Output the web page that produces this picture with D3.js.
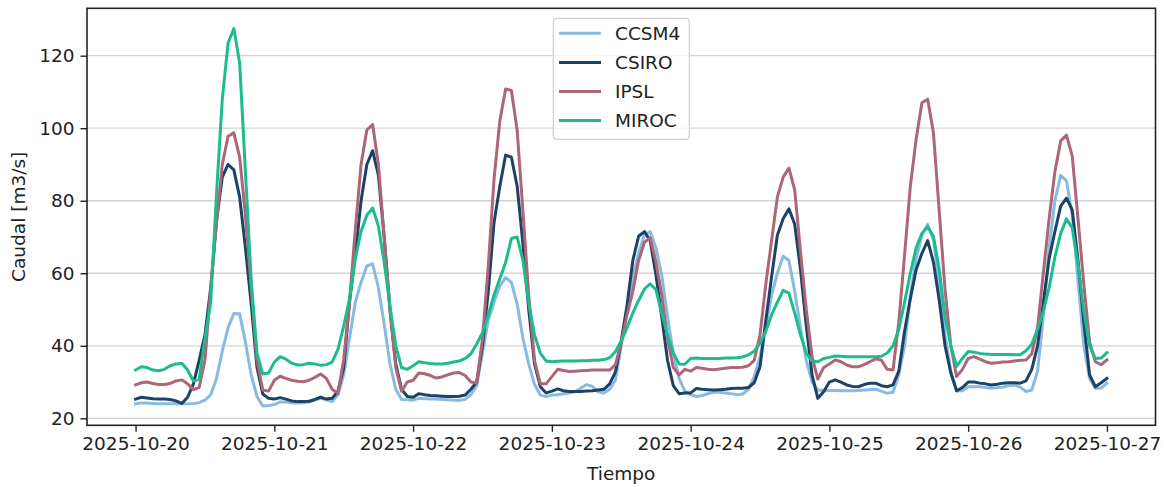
<!DOCTYPE html>
<html>
<head>
<meta charset="utf-8">
<script src="https://cdn.jsdelivr.net/npm/d3@7"></script>
<style>
  body { margin: 0; background: #fff; }
  svg text { font-family: "DejaVu Sans", sans-serif; fill: #222; }
</style>
</head>
<body>
<svg id="chart" width="1164" height="487"></svg>
<script>
// hourly series, 2025-10-20 00:00 .. 2025-10-27 00:00
var startTime = new Date(2025, 9, 20, 0, 0);

var ccsm4 = [
  24.0,24.2,24.2,24.1,24.0,24.0,24.0,24.0,24.0,24.0,24.1,24.3,25.0,26.5,31.0,38.5,45.0,48.9,48.8,41.0,32.0,26.0,23.4,23.5,
  23.8,24.5,24.5,24.3,24.2,24.3,24.5,25.0,25.6,25.1,24.6,26.5,32.0,42.0,52.0,57.5,62.0,62.6,56.0,46.0,35.0,28.0,25.2,25.1,
  25.0,25.5,25.4,25.3,25.3,25.2,25.1,25.0,25.0,25.2,26.5,29.0,38.0,47.0,52.0,56.5,58.8,57.5,51.5,42.0,35.0,29.3,26.4,26.0,
  26.4,26.5,26.8,27.0,27.3,28.3,29.3,28.8,27.3,27.0,28.0,30.5,40.0,50.0,59.0,65.5,70.5,71.5,67.0,59.5,48.0,38.0,31.0,27.5,
  26.5,26.0,26.3,26.8,27.2,27.2,27.0,26.8,26.5,26.7,28.0,31.5,37.0,45.0,54.0,60.0,64.7,63.5,55.0,45.0,36.0,30.0,27.8,27.7,
  27.7,27.7,27.6,27.6,27.6,27.7,27.8,27.9,28.0,27.5,26.9,27.2,32.0,40.0,54.0,64.0,70.5,73.5,69.2,57.0,43.0,33.0,27.5,27.6,
  28.7,28.7,28.7,28.5,28.3,28.4,28.6,29.0,29.2,28.6,27.4,27.8,33.0,48.0,67.0,80.0,87.0,85.5,76.0,58.0,40.0,31.0,28.3,28.3,29.7
];
var csiro = [
  25.3,25.8,25.6,25.4,25.3,25.3,25.2,24.8,24.1,25.8,29.5,36.0,43.0,56.0,74.5,86.5,90.0,88.5,81.0,67.0,51.5,34.0,26.7,25.5,
  25.3,25.7,25.3,24.8,24.6,24.6,24.7,25.2,25.8,25.3,25.5,27.5,34.0,52.0,65.0,80.0,90.0,93.8,87.0,70.0,50.0,35.0,28.0,26.0,
  25.8,26.8,26.5,26.3,26.2,26.1,26.0,26.0,26.1,26.4,28.0,30.0,40.0,55.0,74.0,84.0,92.6,92.0,84.0,68.0,50.0,35.0,28.7,27.0,
  27.5,28.1,27.6,27.4,27.4,27.4,27.5,27.6,27.8,28.0,29.5,32.8,41.3,51.2,63.5,70.2,71.5,69.0,59.5,48.0,36.0,29.0,26.8,27.0,
  27.0,28.2,28.0,27.9,27.8,27.9,28.0,28.2,28.3,28.3,28.5,29.8,34.2,47.0,59.0,70.5,75.0,77.8,73.5,61.0,45.5,32.0,25.5,27.3,
  30.0,30.6,30.0,29.2,28.8,28.7,29.3,29.7,29.7,29.0,28.7,29.2,33.0,44.0,53.0,61.0,65.5,69.0,63.0,52.5,40.0,32.5,27.6,28.5,
  30.0,30.0,29.7,29.5,29.2,29.4,29.7,29.8,29.8,29.7,30.3,33.5,40.0,52.0,64.0,71.5,78.5,80.7,77.5,63.5,46.5,32.0,28.7,29.8,31.0
];
var ipsl = [
  29.2,29.8,30.0,29.6,29.3,29.3,29.6,30.3,30.6,29.5,27.9,28.5,36.0,56.0,74.0,90.0,97.8,98.7,92.0,76.0,56.0,36.0,27.8,27.5,
  30.5,31.6,31.0,30.5,30.2,30.1,30.5,31.3,32.2,31.0,28.0,26.8,36.3,52.0,72.0,90.0,99.5,101.0,90.0,70.0,50.0,34.0,27.5,30.0,
  30.5,32.5,32.3,31.8,31.1,31.4,32.0,32.5,32.6,31.8,30.0,29.7,42.0,62.0,86.0,102.0,110.8,110.4,99.4,77.0,54.0,36.0,29.5,29.5,
  31.5,33.5,33.2,32.9,33.0,33.1,33.2,33.3,33.3,33.3,33.3,34.8,41.0,48.5,55.0,63.5,68.5,69.8,63.0,54.0,42.0,34.0,32.0,33.5,
  33.0,34.0,33.8,33.5,33.4,33.6,33.8,34.0,34.0,34.1,34.5,36.0,43.0,57.0,69.0,81.0,86.5,89.0,83.0,66.0,50.0,37.0,30.8,34.0,
  35.0,36.1,35.6,34.7,34.2,34.2,34.8,35.6,36.4,36.0,33.5,33.3,46.5,65.0,84.0,97.0,107.0,108.0,98.6,77.0,55.5,40.0,31.5,33.5,
  36.5,37.0,36.3,35.6,35.2,35.3,35.5,35.6,35.8,36.0,36.1,37.8,45.0,60.0,75.0,88.0,96.5,98.1,92.3,75.0,57.0,41.0,35.6,34.8,36.1
];
var miroc = [
  33.3,34.2,34.0,33.3,33.1,33.5,34.5,35.0,35.2,33.3,30.3,30.8,42.0,52.0,82.0,108.0,123.5,127.5,118.0,88.0,58.0,38.0,32.2,32.5,
  35.5,37.0,36.3,35.2,34.7,34.8,35.2,35.0,34.6,34.8,35.5,39.0,45.4,53.0,64.0,71.5,76.0,78.0,73.0,63.0,51.0,40.0,34.0,33.5,
  34.5,35.6,35.3,35.1,35.0,35.0,35.2,35.5,35.8,36.5,37.8,40.5,43.6,48.5,54.0,58.5,63.0,69.6,70.0,63.5,51.7,43.0,38.0,35.8,
  35.6,35.7,35.8,35.8,35.8,35.9,35.9,36.0,36.0,36.2,36.7,38.4,41.3,45.0,49.0,52.5,55.6,57.1,55.5,49.0,43.0,38.0,35.0,34.9,
  36.5,36.6,36.5,36.5,36.5,36.5,36.6,36.6,36.7,36.9,37.5,38.5,40.7,44.0,48.5,52.0,55.3,54.5,49.0,43.0,38.0,35.8,35.6,36.5,
  36.8,37.2,37.1,37.0,37.0,37.0,37.0,37.0,37.0,37.1,38.0,40.0,44.5,52.0,60.0,67.0,71.0,72.8,70.1,61.0,48.0,40.0,34.3,36.5,
  38.4,38.2,37.9,37.7,37.6,37.6,37.6,37.6,37.5,37.5,38.6,40.5,44.5,49.5,56.0,64.5,71.0,75.0,72.5,62.5,49.5,40.0,36.5,36.6,38.1
];

var seriesNames = ["CCSM4", "CSIRO", "IPSL", "MIROC"];
var seriesColors = ["#88bbe0", "#1c4267", "#ad6676", "#1dbb8e"];
var seriesValues = [ccsm4, csiro, ipsl, miroc];
var yTicks = [20, 40, 60, 80, 100, 120];
var yLimits = [18.07, 133.07];

var svg = d3.select("#chart");
var plotLeft = 87, plotRight = 1155.5, plotTop = 8.3, plotBottom = 425.3;

var times = ccsm4.map(function(v, i) { return d3.timeHour.offset(startTime, i); });
var t0 = times[0], t1 = times[times.length - 1];
var pad = (t1 - t0) * 0.05;

var x = d3.scaleTime()
  .domain([new Date(+t0 - pad), new Date(+t1 + pad)])
  .range([plotLeft, plotRight]);
var y = d3.scaleLinear().domain(yLimits).range([plotBottom, plotTop]);

// grid
svg.append("g")
  .selectAll("line")
  .data(yTicks)
  .enter()
  .append("line")
  .attr("x1", plotLeft).attr("x2", plotRight)
  .attr("y1", function(d) { return y(d); })
  .attr("y2", function(d) { return y(d); })
  .attr("stroke", "#d4d4d4")
  .attr("stroke-width", 1.3);

// lines
var line = d3.line()
  .x(function(d, i) { return x(times[i]); })
  .y(function(d) { return y(d); });

svg.append("g")
  .selectAll("path")
  .data(seriesValues)
  .enter()
  .append("path")
  .attr("d", line)
  .attr("fill", "none")
  .attr("stroke", function(d, i) { return seriesColors[i]; })
  .attr("stroke-width", 3)
  .attr("stroke-linejoin", "round")
  .attr("stroke-linecap", "square");

// frame
svg.append("rect")
  .attr("x", plotLeft).attr("y", plotTop)
  .attr("width", plotRight - plotLeft).attr("height", plotBottom - plotTop)
  .attr("fill", "none")
  .attr("stroke", "#222")
  .attr("stroke-width", 1.6);

// axes
var xAxis = d3.axisBottom(x)
  .tickValues(d3.timeDay.range(t0, d3.timeHour.offset(t1, 1)))
  .tickFormat(d3.timeFormat("%Y-%m-%d"))
  .tickSize(6.5)
  .tickPadding(5);
var gx = svg.append("g")
  .attr("transform", "translate(0," + plotBottom + ")")
  .call(xAxis);

var yAxis = d3.axisLeft(y)
  .tickValues(yTicks)
  .tickSize(6.5)
  .tickPadding(6);
var gy = svg.append("g")
  .attr("transform", "translate(" + plotLeft + ",0)")
  .call(yAxis);

[gx, gy].forEach(function(g) {
  g.select(".domain").remove();
  g.selectAll(".tick line").attr("stroke", "#222").attr("stroke-width", 1.4);
  g.selectAll(".tick text")
    .attr("font-family", "DejaVu Sans")
    .attr("font-size", "18.5px")
    .attr("fill", "#222");
});

// axis titles
svg.append("text")
  .attr("x", (plotLeft + plotRight) / 2)
  .attr("y", 480)
  .attr("text-anchor", "middle")
  .attr("font-size", "18.5px")
  .text("Tiempo");

svg.append("text")
  .attr("transform", "translate(25," + ((plotTop + plotBottom) / 2) + ") rotate(-90)")
  .attr("text-anchor", "middle")
  .attr("font-size", "18.5px")
  .text("Caudal [m3/s]");

// legend
var legend = svg.append("g");
legend.append("rect")
  .attr("x", 553.3).attr("y", 18.3)
  .attr("width", 136).attr("height", 121)
  .attr("rx", 3)
  .attr("fill", "#fff").attr("fill-opacity", 0.8)
  .attr("stroke", "#d0d0d0")
  .attr("stroke-width", 1.2);

var items = legend.selectAll("g.item")
  .data(seriesNames)
  .enter()
  .append("g")
  .attr("class", "item")
  .attr("transform", function(d, i) { return "translate(0," + (33.3 + i * 29.1) + ")"; });

items.append("line")
  .attr("x1", 559).attr("x2", 601)
  .attr("stroke", function(d, i) { return seriesColors[i]; })
  .attr("stroke-width", 3);

items.append("text")
  .attr("x", 615)
  .attr("dy", "0.35em")
  .attr("font-size", "18.5px")
  .text(function(d) { return d; });
</script>
</body>
</html>
